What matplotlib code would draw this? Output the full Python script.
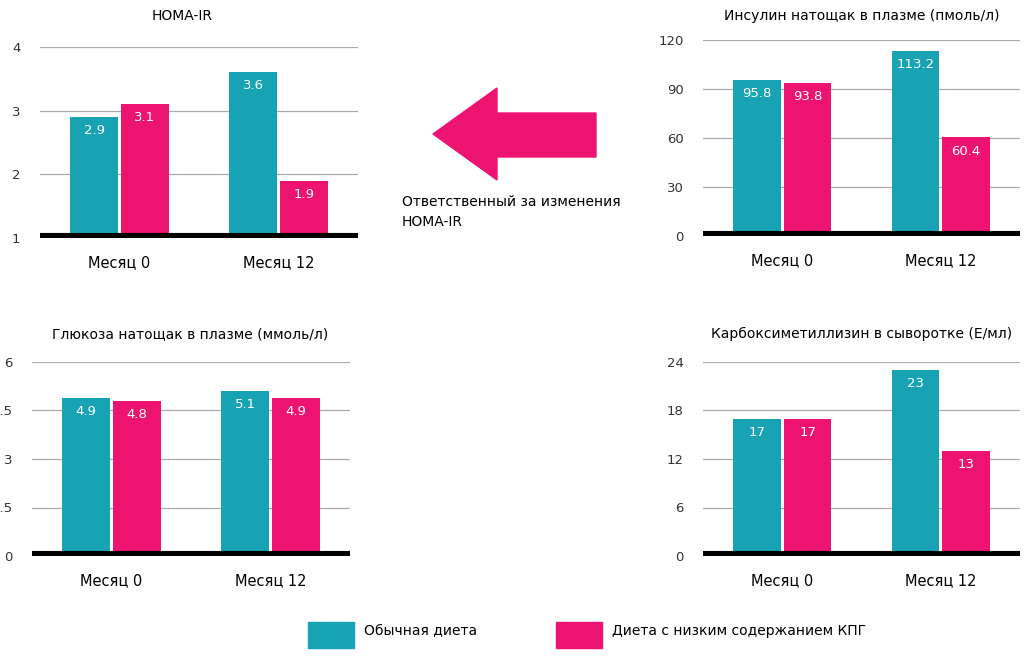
import matplotlib.pyplot as plt
from matplotlib.patches import Polygon, Rectangle

months = ["Месяц 0", "Месяц 12"]
titles = ["HOMA-IR", "Инсулин натощак в плазме (пмоль/л)",
          "Глюкоза натощак в плазме (ммоль/л)", "Карбоксиметиллизин в сыворотке (Е/мл)"]
normal = [[2.9, 3.6], [95.8, 113.2], [4.9, 5.1], [17, 23]]
lowcarb = [[3.1, 1.9], [93.8, 60.4], [4.8, 4.9], [17, 13]]
normal_lbl = [["2.9", "3.6"], ["95.8", "113.2"], ["4.9", "5.1"], ["17", "23"]]
lowcarb_lbl = [["3.1", "1.9"], ["93.8", "60.4"], ["4.8", "4.9"], ["17", "13"]]
yticks = [[1, 2, 3, 4], [0, 30, 60, 90, 120], [0, 1.5, 3, 4.5, 6], [0, 6, 12, 18, 24]]
ytick_lbl = [["1", "2", "3", "4"], ["0", "30", "60", "90", "120"],
             ["0", "1.5", "3", "4.5", "6"], ["0", "6", "12", "18", "24"]]

TEAL = "#17a3b3"
PINK = "#ec1470"
W, H = 1024, 664

fig = plt.figure(figsize=(W / 100, H / 100), dpi=100)
fig.patch.set_facecolor("white")

# pixel boxes: left, top, right, bottom
boxes = [(40, 47, 358, 238), (703, 40, 1020, 236), (32, 362, 350, 556), (703, 362, 1020, 556)]
title_pos = [(182, 16), (862, 16), (190, 334), (862, 334)]

for i, (l, t, r, b) in enumerate(boxes):
    ax = fig.add_axes([l / W, 1 - b / H, (r - l) / W, (b - t) / H])
    ymin, ymax = yticks[i][0], yticks[i][-1]
    ax.set_ylim(ymin, ymax)
    ax.set_xlim(-0.5, 1.5)
    bw = 0.3
    for j in range(2):
        ax.bar(j - 0.16, normal[i][j] - ymin, bw, bottom=ymin, color=TEAL, zorder=3)
        ax.bar(j + 0.16, lowcarb[i][j] - ymin, bw, bottom=ymin, color=PINK, zorder=3)
        off = (ymax - ymin) * 0.07
        ax.text(j - 0.16, normal[i][j] - off, normal_lbl[i][j], color="white",
                ha="center", va="center", fontsize=9.5, zorder=4)
        ax.text(j + 0.16, lowcarb[i][j] - off, lowcarb_lbl[i][j], color="white",
                ha="center", va="center", fontsize=9.5, zorder=4)
    ax.set_yticks(yticks[i])
    ax.set_yticklabels(ytick_lbl[i], fontsize=9.5, color="#333333")
    ax.yaxis.grid(True, color="#aaaaaa", lw=0.9, zorder=0)
    ax.axhline(ymin, color="black", lw=8, zorder=5)
    ax.set_xticks([0, 1])
    ax.set_xticklabels(months, fontsize=10.5)
    ax.tick_params(length=0, pad=12)
    ax.tick_params(axis="y", pad=14)
    for s in ax.spines.values():
        s.set_visible(False)
    fig.text(title_pos[i][0] / W, 1 - title_pos[i][1] / H, titles[i],
             ha="center", va="center", fontsize=10)

# arrow
pts = [(433, 134), (497, 88), (497, 113), (596, 113), (596, 157), (497, 157), (497, 180)]
fig.patches.append(Polygon([(x / W, 1 - y / H) for x, y in pts], closed=True,
                           transform=fig.transFigure, color=PINK))
fig.text(402 / W, 1 - 212 / H, "Ответственный за изменения\nHOMA-IR",
         ha="left", va="center", fontsize=10, linespacing=1.5)

# legend
for x0, c, lbl in [(308, TEAL, "Обычная диета"), (556, PINK, "Диета с низким содержанием КПГ")]:
    fig.patches.append(Rectangle((x0 / W, 1 - 648 / H), 46 / W, 26 / H,
                                 transform=fig.transFigure, color=c))
    fig.text((x0 + 56) / W, 1 - 631 / H, lbl, ha="left", va="center", fontsize=10)

fig.savefig("out.png", dpi=100)
